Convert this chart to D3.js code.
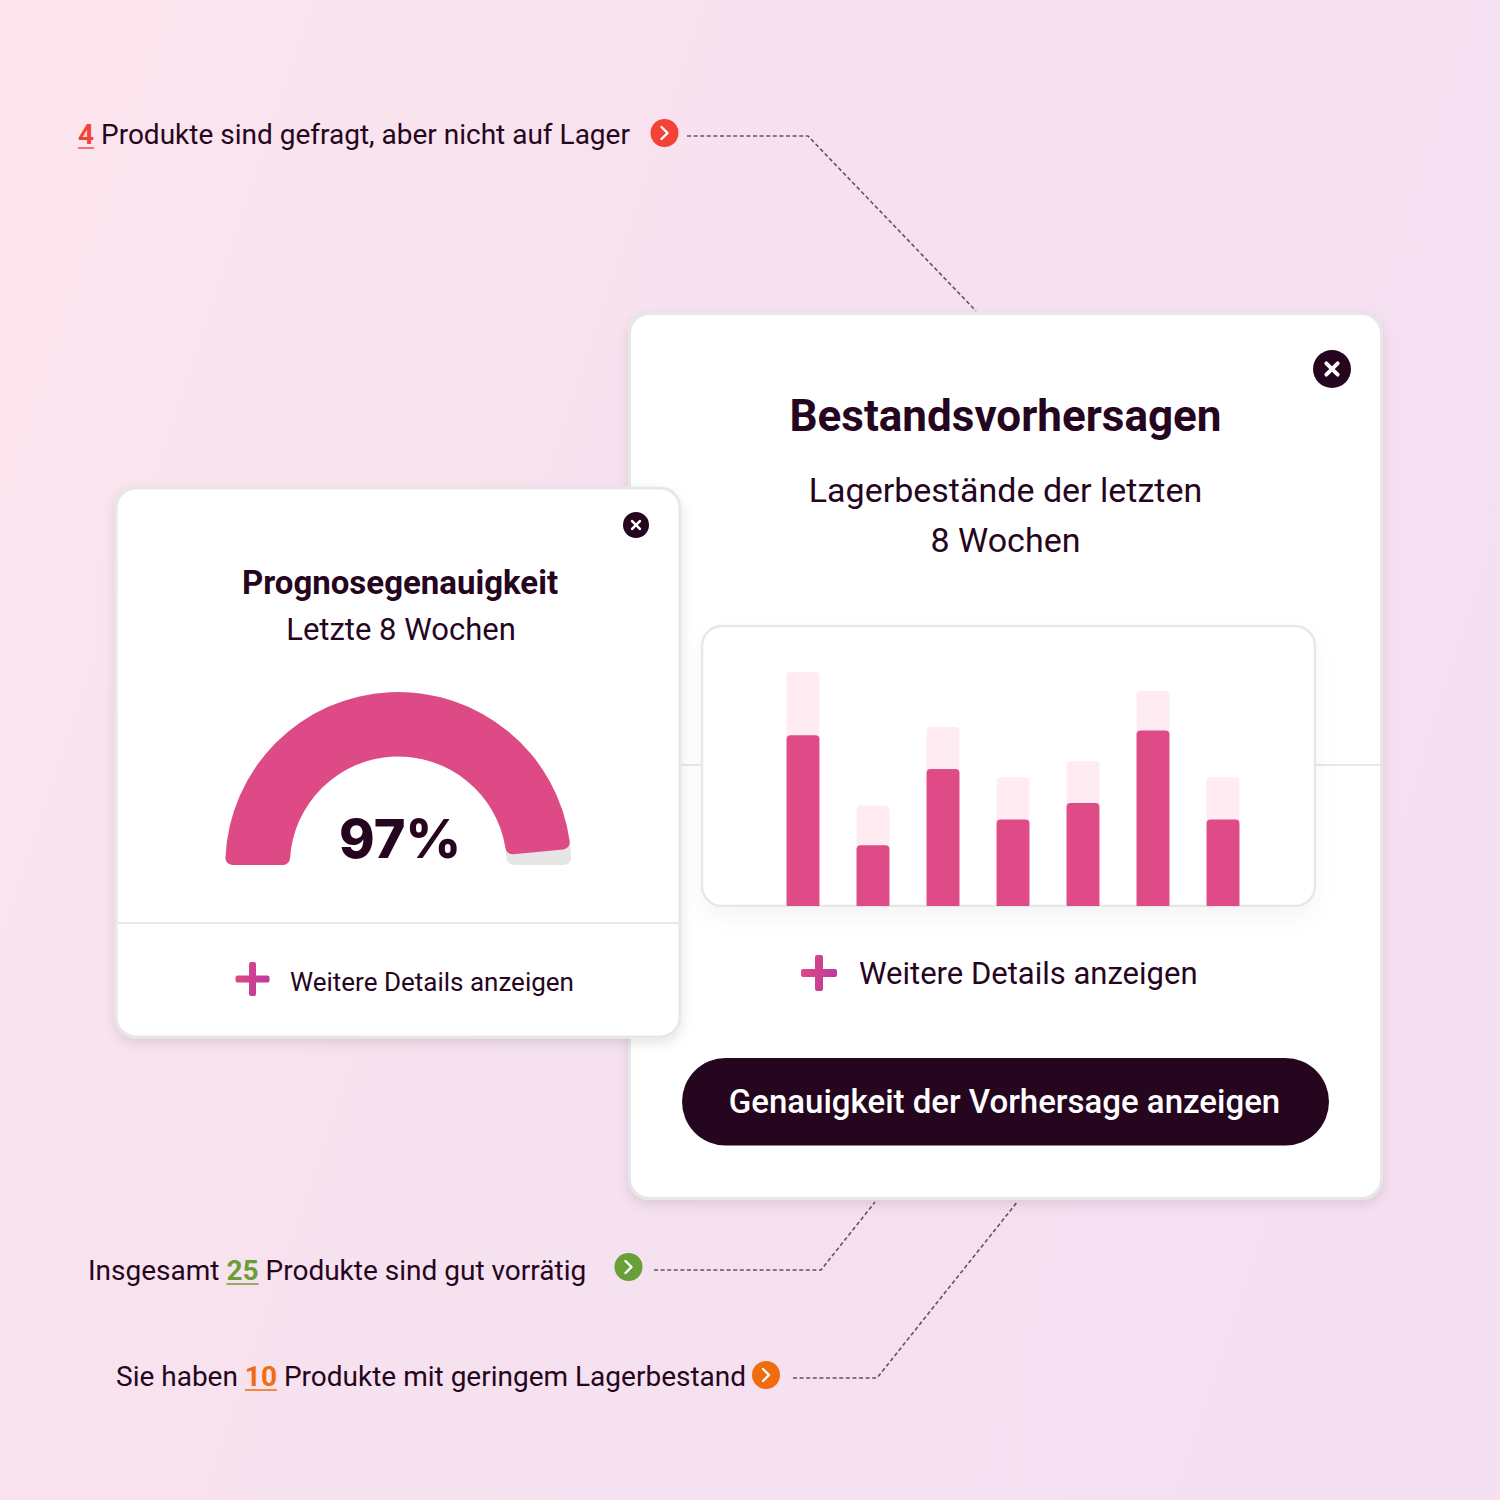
<!DOCTYPE html>
<html>
<head>
<meta charset="utf-8">
<script src="https://cdn.jsdelivr.net/npm/d3@7"></script>
<style>
  html, body { margin: 0; padding: 0; overflow: hidden; }
  text { font-family: Roboto, sans-serif; fill: #26061f; }
</style>
</head>
<body>
<div id="chart"></div>
<script>
// chart data
const weeks = ["W1", "W2", "W3", "W4", "W5", "W6", "W7"];
const stockValues = [73, 26, 58.5, 37, 44, 75, 37];
const forecastValues = [100, 43, 76.5, 55, 62, 92, 55];
const gaugeValue = 97;

const calloutBefore = ["", "Insgesamt ", "Sie haben "];
const calloutCounts = ["4", "25", "10"];
const calloutAfter = [" Produkte sind gefragt, aber nicht auf Lager", " Produkte sind gut vorrätig", " Produkte mit geringem Lagerbestand"];
const calloutColors = ["#f44336", "#689f38", "#ef6c0f"];

const dark = "#26061f";
const width = 1500;
const height = 1500;

const svg = d3.select("#chart").append("svg")
  .attr("width", width)
  .attr("height", height)
  .style("display", "block");

const defs = svg.append("defs");

function addGradient(id, x1, y1, x2, y2, stops) {
  const g = defs.append("linearGradient")
    .attr("id", id)
    .attr("gradientUnits", "userSpaceOnUse")
    .attr("x1", x1).attr("y1", y1)
    .attr("x2", x2).attr("y2", y2);
  stops.forEach((c, i) => g.append("stop").attr("offset", i / (stops.length - 1)).attr("stop-color", c));
}

addGradient("bg", 0, 200, 1500, 700, ["#fce5ed", "#f6e1ef", "#f5e0f2"]);
addGradient("gauge", 235, 700, 570, 850, ["#de4a85", "#c23c9e", "#9c22c8"]);
addGradient("plusSmall", 236, 975, 269, 985, ["#de4a85", "#bb389f"]);
addGradient("plusBig", 801, 969, 837, 979, ["#de4a85", "#bb389f"]);

const shadow = defs.append("filter").attr("id", "shadow")
  .attr("x", "-10%").attr("y", "-10%").attr("width", "120%").attr("height", "120%");
shadow.append("feDropShadow").attr("dx", 0).attr("dy", 5).attr("stdDeviation", 6)
  .attr("flood-color", "#000").attr("flood-opacity", 0.1);

const softShadow = defs.append("filter").attr("id", "softShadow")
  .attr("x", "-10%").attr("y", "-10%").attr("width", "120%").attr("height", "130%");
softShadow.append("feDropShadow").attr("dx", 0).attr("dy", 10).attr("stdDeviation", 10)
  .attr("flood-color", "#000").attr("flood-opacity", 0.04);

svg.append("rect").attr("width", width).attr("height", height).attr("fill", "url(#bg)");

// dashed connectors
const connectors = [
  [[687, 136], [808, 136], [976, 311]],
  [[654, 1270], [821, 1270], [875, 1202]],
  [[793, 1378], [877, 1378], [1018, 1201]]
];
const line = d3.line();
svg.selectAll("path.connector")
  .data(connectors)
  .enter()
  .append("path")
  .attr("class", "connector")
  .attr("d", line)
  .attr("fill", "none")
  .attr("stroke", "#6d4c68")
  .attr("stroke-width", 1.6)
  .attr("stroke-dasharray", "4 2.6");

// callout texts
const calloutX = [78, 88, 116];
const calloutY = [144, 1280, 1386];
const calloutDotX = [664.5, 628.5, 766];
const calloutDotY = [133, 1267, 1375];

calloutCounts.forEach((count, i) => {
  const t = svg.append("text")
    .attr("x", calloutX[i])
    .attr("y", calloutY[i])
    .attr("font-size", 28);
  t.append("tspan").text(calloutBefore[i]);
  const num = t.append("tspan")
    .text(count)
    .attr("font-weight", 700)
    .style("fill", calloutColors[i]);
  t.append("tspan").text(calloutAfter[i]);

  // underline under the number
  const start = calloutBefore[i].length;
  const node = t.node();
  const x1 = node.getStartPositionOfChar(start).x;
  const x2 = node.getEndPositionOfChar(start + count.length - 1).x;
  svg.append("line")
    .attr("x1", x1).attr("x2", x2)
    .attr("y1", calloutY[i] + 4).attr("y2", calloutY[i] + 4)
    .attr("stroke", calloutColors[i])
    .attr("stroke-width", 1.4);

  svg.append("circle")
    .attr("cx", calloutDotX[i])
    .attr("cy", calloutDotY[i])
    .attr("r", 14)
    .attr("fill", calloutColors[i]);
  svg.append("path")
    .attr("d", d3.line()([[-3, -6], [3, 0], [-3, 6]]))
    .attr("transform", "translate(" + calloutDotX[i] + "," + calloutDotY[i] + ")")
    .attr("fill", "none")
    .attr("stroke", "#fff")
    .attr("stroke-width", 2.4)
    .attr("stroke-linecap", "round")
    .attr("stroke-linejoin", "round");
});

function card(x, y, w, h) {
  svg.append("rect")
    .attr("x", x).attr("y", y)
    .attr("width", w).attr("height", h)
    .attr("rx", 20)
    .attr("fill", "#fff")
    .attr("stroke", "#e7e7e7")
    .attr("stroke-width", 3)
    .attr("filter", "url(#shadow)");
}

function closeButton(cx, cy, r) {
  svg.append("circle").attr("cx", cx).attr("cy", cy).attr("r", r).attr("fill", dark);
  const a = r * 0.3;
  svg.append("path")
    .attr("d", "M" + (cx - a) + "," + (cy - a) + "L" + (cx + a) + "," + (cy + a) + "M" + (cx + a) + "," + (cy - a) + "L" + (cx - a) + "," + (cy + a))
    .attr("stroke", "#fff")
    .attr("stroke-width", r * 0.2)
    .attr("stroke-linecap", "round");
}

function plus(cx, cy, size, thick, fill) {
  svg.append("rect").attr("x", cx - size / 2).attr("y", cy - thick / 2)
    .attr("width", size).attr("height", thick).attr("rx", 2).attr("fill", fill);
  svg.append("rect").attr("x", cx - thick / 2).attr("y", cy - size / 2)
    .attr("width", thick).attr("height", size).attr("rx", 2).attr("fill", fill);
}

function label(x, y, size, txt, weight, family) {
  return svg.append("text")
    .attr("x", x).attr("y", y)
    .attr("text-anchor", "middle")
    .attr("font-size", size)
    .attr("font-weight", weight || 400)
    .style("font-family", family || null)
    .text(txt);
}

// big card
card(629.5, 313.5, 752, 885);
closeButton(1332, 369, 19);
label(1005.5, 431, 44, "Bestandsvorhersagen", 700);
label(1005.5, 502, 34, "Lagerbestände der letzten");
label(1005.5, 552, 34, "8 Wochen");

svg.append("line")
  .attr("x1", 631).attr("x2", 1381)
  .attr("y1", 765).attr("y2", 765)
  .attr("stroke", "#e7e7e7")
  .attr("stroke-width", 2);

// bar panel
const panel = { x: 702, y: 626, w: 613, h: 280 };
svg.append("rect")
  .attr("x", panel.x).attr("y", panel.y)
  .attr("width", panel.w).attr("height", panel.h)
  .attr("rx", 20)
  .attr("fill", "#fff")
  .attr("stroke", "#e7e7e7")
  .attr("stroke-width", 2.4)
  .attr("filter", "url(#softShadow)");

defs.append("clipPath").attr("id", "barClip")
  .append("rect")
  .attr("x", panel.x).attr("y", panel.y)
  .attr("width", panel.w).attr("height", panel.h);

const xScale = d3.scaleBand()
  .domain(weeks)
  .range([768, 1258])
  .paddingInner(0.53)
  .paddingOuter(0.265);

const yScale = d3.scaleLinear()
  .domain([0, 100])
  .range([906, 672]);

const bars = svg.append("g").attr("clip-path", "url(#barClip)");

function drawBars(values, color) {
  bars.append("g").selectAll("rect")
    .data(values)
    .enter()
    .append("rect")
    .attr("x", (d, i) => xScale(weeks[i]))
    .attr("y", (d) => yScale(d))
    .attr("width", xScale.bandwidth())
    .attr("height", (d) => yScale(0) - yScale(d) + 10)
    .attr("rx", 4)
    .attr("fill", color);
}
drawBars(forecastValues, "#ffebf2");
drawBars(stockValues, "#df4b87");

plus(819, 973, 36, 8, "url(#plusBig)");
svg.append("text").attr("x", 859).attr("y", 984).attr("font-size", 31).text("Weitere Details anzeigen");

// button
svg.append("rect")
  .attr("x", 682).attr("y", 1058)
  .attr("width", 647).attr("height", 87.5)
  .attr("rx", 43.7)
  .attr("fill", dark);
label(1004.5, 1113, 33, "Genauigkeit der Vorhersage anzeigen", 500)
  .style("fill", "#fff");

// small card
card(116, 488, 564, 549);
closeButton(636, 525, 13);
label(400, 594, 33, "Prognosegenauigkeit", 700);
label(401, 640, 31, "Letzte 8 Wochen");

const gaugeAngle = d3.scaleLinear()
  .domain([0, 100])
  .range([-Math.PI / 2, Math.PI / 2]);

const gaugeArc = d3.arc()
  .innerRadius(108.5)
  .outerRadius(173)
  .cornerRadius(7);

const gauge = svg.append("g").attr("transform", "translate(398.3,865)");
gauge.append("path")
  .attr("d", gaugeArc({ startAngle: gaugeAngle(0), endAngle: gaugeAngle(100) }))
  .attr("fill", "#e6e6e6");
gauge.append("path")
  .attr("d", gaugeArc({ startAngle: gaugeAngle(0), endAngle: gaugeAngle(gaugeValue) }))
  .attr("transform", "translate(-398.3,-865)")
  .attr("fill", "none");
svg.append("path")
  .attr("d", gaugeArc({ startAngle: gaugeAngle(0), endAngle: gaugeAngle(gaugeValue) }))
  .attr("transform", "translate(398.3,865)")
  .attr("fill", "url(#gauge)");

label(400, 858, 54, gaugeValue + "%", 800, "Inter");

svg.append("line")
  .attr("x1", 118).attr("x2", 680)
  .attr("y1", 923).attr("y2", 923)
  .attr("stroke", "#e7e7e7")
  .attr("stroke-width", 2);

plus(252.5, 979, 34, 7, "url(#plusSmall)");
svg.append("text").attr("x", 290).attr("y", 991).attr("font-size", 26).text("Weitere Details anzeigen");
</script>
</body>
</html>
